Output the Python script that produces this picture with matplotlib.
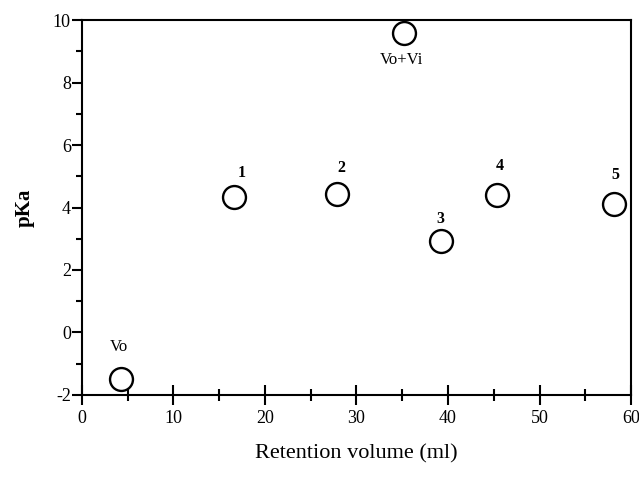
import matplotlib
matplotlib.use("Agg")
import matplotlib.pyplot as plt
from matplotlib.ticker import MultipleLocator

# Data
labels = ["Vo", "1", "2", "Vo+Vi", "3", "4", "5"]
retention_volume = [4.3, 16.6, 27.9, 35.2, 39.2, 45.3, 58.1]
pka = [-1.5, 4.35, 4.42, 9.6, 2.92, 4.4, 4.12]
x_ticks = [0, 10, 20, 30, 40, 50, 60]
y_ticks = [-2, 0, 2, 4, 6, 8, 10]

# label offsets (points) and weights
offsets = {"Vo": (-2, 23), "1": (6, 17), "2": (3, 19), "Vo+Vi": (-2, -20),
           "3": (0, 16), "4": (2, 21), "5": (1, 21)}
plain = {"Vo", "Vo+Vi"}

plt.rcParams['font.family'] = ['Liberation Serif', 'DejaVu Serif']
plt.rcParams['axes.unicode_minus'] = False

fig = plt.figure(figsize=(6.39, 4.79), dpi=100)
ax = fig.add_axes([0.1283, 0.1754, 0.9875 - 0.1283, 0.9582 - 0.1754])

ax.plot(retention_volume, pka, linestyle='none', marker='o', markersize=16.5,
        markerfacecolor='white', markeredgecolor='black', markeredgewidth=1.7,
        clip_on=False, zorder=3)

for lab, xv, yv in zip(labels, retention_volume, pka):
    dx, dy = offsets[lab]
    if lab in plain:
        ax.annotate(lab, (xv, yv), xytext=(dx, dy), textcoords='offset points',
                    ha='center', va='center', fontsize=12)
    else:
        ax.annotate(lab, (xv, yv), xytext=(dx, dy), textcoords='offset points',
                    ha='center', va='center', fontsize=11.5, fontweight='bold')

ax.set_xlim(0, 60)
ax.set_ylim(-2, 10)
ax.set_xticks(x_ticks)
ax.set_yticks(y_ticks)
ax.xaxis.set_minor_locator(MultipleLocator(5))
ax.yaxis.set_minor_locator(MultipleLocator(1))

for s in ax.spines.values():
    s.set_linewidth(1.5)

ax.tick_params(axis='x', which='major', direction='inout', length=15, width=1.5,
               labelsize=13, pad=3)
ax.tick_params(axis='x', which='minor', direction='inout', length=8, width=1.5)
ax.tick_params(axis='y', which='major', direction='out', length=7, width=1.5,
               labelsize=13, pad=1)
ax.tick_params(axis='y', which='minor', direction='out', length=4, width=1.5)

ax.set_xlabel("Retention volume (ml)", fontsize=16, labelpad=13)
ax.set_ylabel("pKa", fontsize=15, fontweight='bold', labelpad=13)

fig.savefig("out.png", dpi=100)
